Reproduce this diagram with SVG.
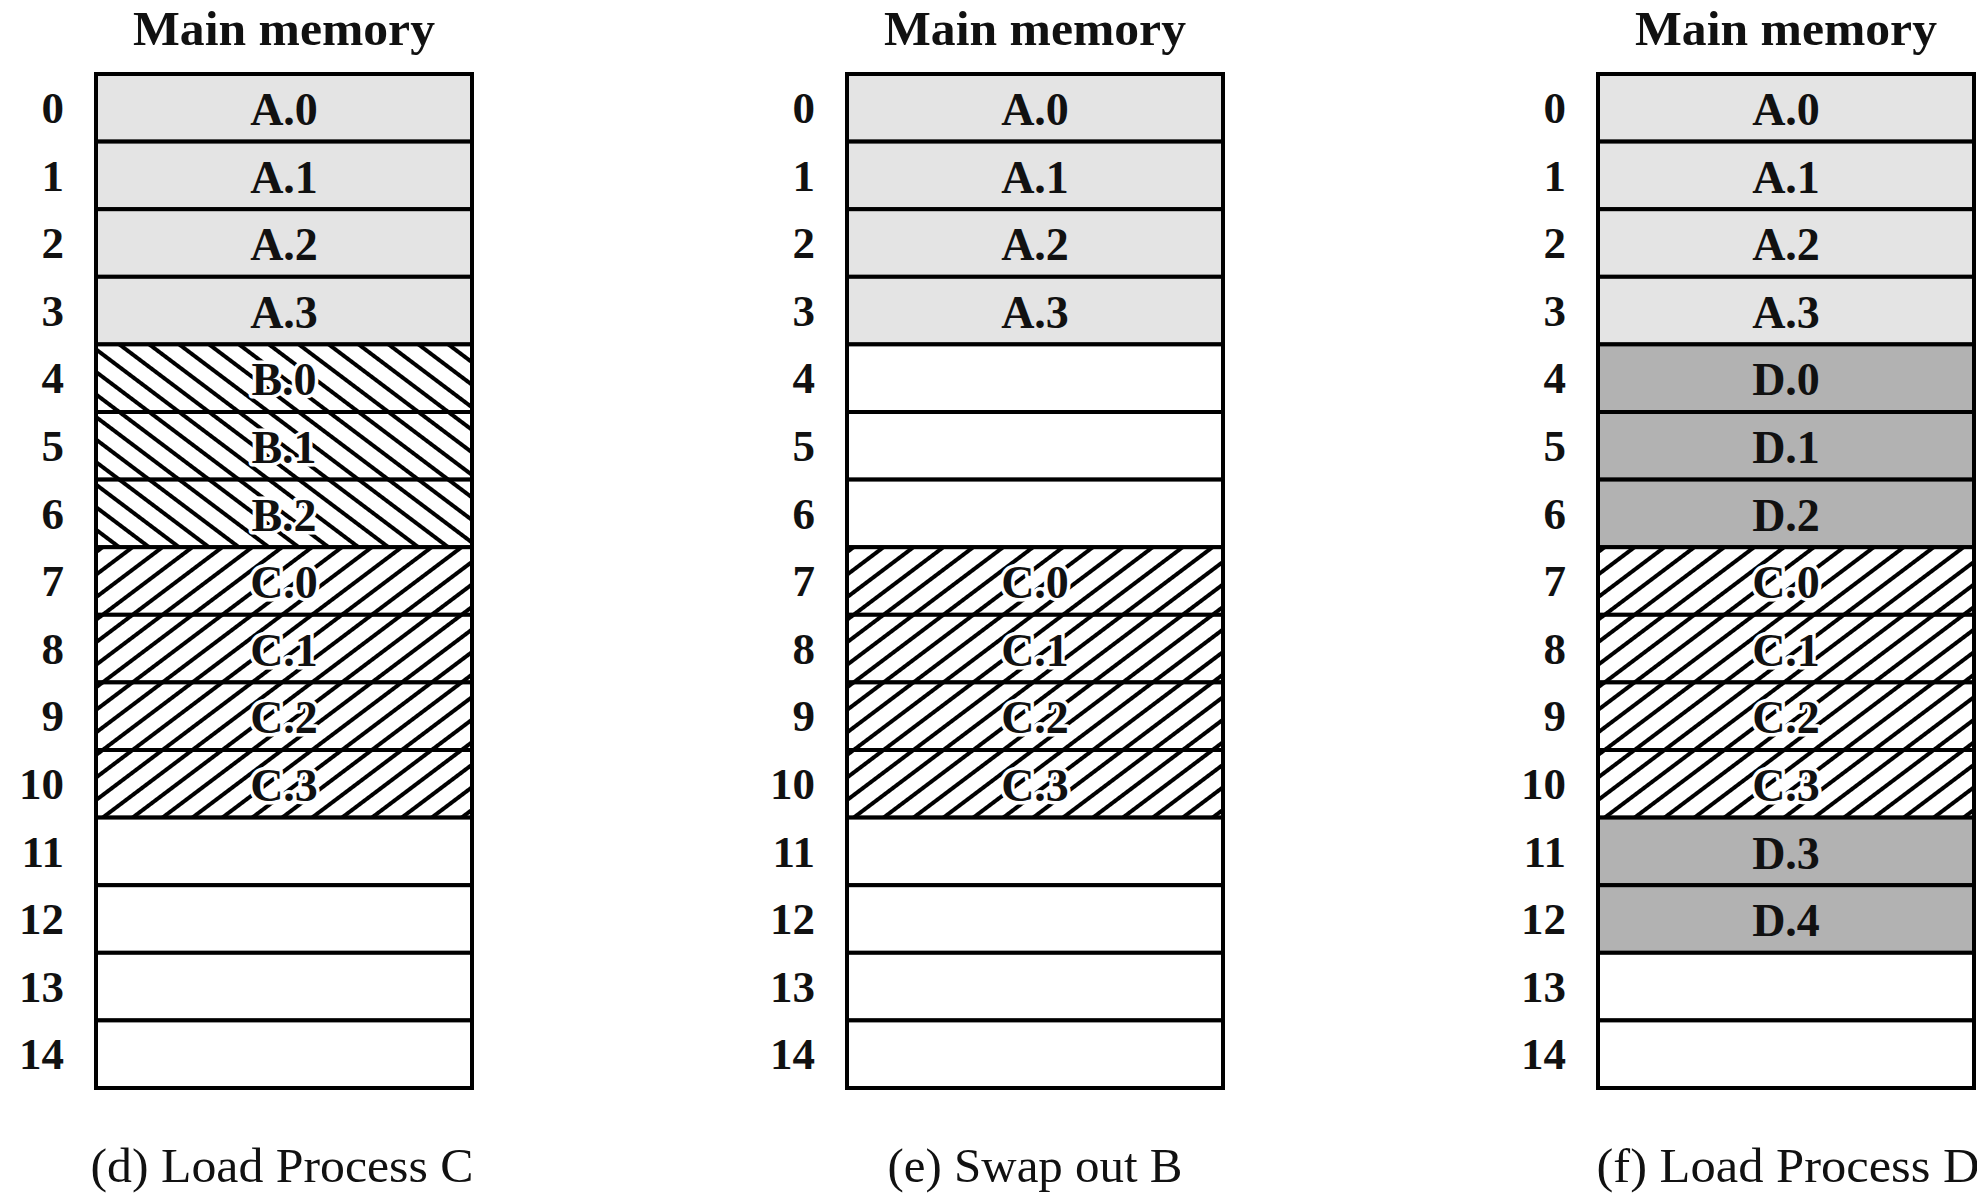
<svg xmlns="http://www.w3.org/2000/svg" width="1977" height="1193" viewBox="0 0 1977 1193">
<defs>
<pattern id="hatchB" width="18" height="20" patternUnits="userSpaceOnUse" patternTransform="rotate(-53)">
<rect width="18" height="20" fill="#fff"/>
<line x1="9" y1="-1" x2="9" y2="21" stroke="#000" stroke-width="4"/>
</pattern>
<pattern id="hatchC" width="18" height="20" patternUnits="userSpaceOnUse" patternTransform="rotate(53)">
<rect width="18" height="20" fill="#fff"/>
<line x1="9" y1="-1" x2="9" y2="21" stroke="#000" stroke-width="4"/>
</pattern>
</defs>
<style>
.cell{stroke:#000;stroke-width:4}
.a{fill:#e4e4e4}
.dd{fill:#b2b2b2}
.free{fill:#fff}
.hb{fill:url(#hatchB)}
.hc{fill:url(#hatchC)}
.num{font-family:"Liberation Serif","Times New Roman",serif;font-weight:bold;font-size:45px;text-anchor:end;fill:#111}
.lbl{font-family:"Liberation Serif","Times New Roman",serif;font-weight:bold;font-size:46px;text-anchor:middle;fill:#111}
.halo{paint-order:stroke;stroke:#fff;stroke-width:7;stroke-linejoin:round}
.title{font-family:"Liberation Serif","Times New Roman",serif;font-weight:bold;font-size:48px;text-anchor:middle;fill:#111}
.cap{font-family:"Liberation Serif","Times New Roman",serif;font-size:48px;text-anchor:middle;fill:#111}
</style>
<rect width="1977" height="1193" fill="#fff"/>

<g id="col-d" transform="translate(96,0)">
<text class="title" x="188" y="45" textLength="302" lengthAdjust="spacingAndGlyphs">Main memory</text>
<g id="d-0"><rect class="cell a" x="0" y="74" width="376" height="67.6"/><text class="num" x="-32" y="123">0</text><text class="lbl" x="188" y="125">A.0</text></g>
<g id="d-1"><rect class="cell a" x="0" y="141.6" width="376" height="67.6"/><text class="num" x="-32" y="190.6">1</text><text class="lbl" x="188" y="192.6">A.1</text></g>
<g id="d-2"><rect class="cell a" x="0" y="209.2" width="376" height="67.6"/><text class="num" x="-32" y="258.2">2</text><text class="lbl" x="188" y="260.2">A.2</text></g>
<g id="d-3"><rect class="cell a" x="0" y="276.8" width="376" height="67.6"/><text class="num" x="-32" y="325.8">3</text><text class="lbl" x="188" y="327.8">A.3</text></g>
<g id="d-4"><rect class="cell hb" x="0" y="344.4" width="376" height="67.6"/><text class="num" x="-32" y="393.4">4</text><text class="lbl halo" x="188" y="395.4">B.0</text></g>
<g id="d-5"><rect class="cell hb" x="0" y="412" width="376" height="67.6"/><text class="num" x="-32" y="461">5</text><text class="lbl halo" x="188" y="463">B.1</text></g>
<g id="d-6"><rect class="cell hb" x="0" y="479.6" width="376" height="67.6"/><text class="num" x="-32" y="528.6">6</text><text class="lbl halo" x="188" y="530.6">B.2</text></g>
<g id="d-7"><rect class="cell hc" x="0" y="547.2" width="376" height="67.6"/><text class="num" x="-32" y="596.2">7</text><text class="lbl halo" x="188" y="598.2">C.0</text></g>
<g id="d-8"><rect class="cell hc" x="0" y="614.8" width="376" height="67.6"/><text class="num" x="-32" y="663.8">8</text><text class="lbl halo" x="188" y="665.8">C.1</text></g>
<g id="d-9"><rect class="cell hc" x="0" y="682.4" width="376" height="67.6"/><text class="num" x="-32" y="731.4">9</text><text class="lbl halo" x="188" y="733.4">C.2</text></g>
<g id="d-10"><rect class="cell hc" x="0" y="750" width="376" height="67.6"/><text class="num" x="-32" y="799">10</text><text class="lbl halo" x="188" y="801">C.3</text></g>
<g id="d-11"><rect class="cell free" x="0" y="817.6" width="376" height="67.6"/><text class="num" x="-32" y="866.6">11</text></g>
<g id="d-12"><rect class="cell free" x="0" y="885.2" width="376" height="67.6"/><text class="num" x="-32" y="934.2">12</text></g>
<g id="d-13"><rect class="cell free" x="0" y="952.8" width="376" height="67.6"/><text class="num" x="-32" y="1001.8">13</text></g>
<g id="d-14"><rect class="cell free" x="0" y="1020.4" width="376" height="67.6"/><text class="num" x="-32" y="1069.4">14</text></g>
<text class="cap" x="186" y="1182" textLength="383" lengthAdjust="spacingAndGlyphs">(d) Load Process C</text>
</g>

<g id="col-e" transform="translate(847,0)">
<text class="title" x="188" y="45" textLength="302" lengthAdjust="spacingAndGlyphs">Main memory</text>
<g id="e-0"><rect class="cell a" x="0" y="74" width="376" height="67.6"/><text class="num" x="-32" y="123">0</text><text class="lbl" x="188" y="125">A.0</text></g>
<g id="e-1"><rect class="cell a" x="0" y="141.6" width="376" height="67.6"/><text class="num" x="-32" y="190.6">1</text><text class="lbl" x="188" y="192.6">A.1</text></g>
<g id="e-2"><rect class="cell a" x="0" y="209.2" width="376" height="67.6"/><text class="num" x="-32" y="258.2">2</text><text class="lbl" x="188" y="260.2">A.2</text></g>
<g id="e-3"><rect class="cell a" x="0" y="276.8" width="376" height="67.6"/><text class="num" x="-32" y="325.8">3</text><text class="lbl" x="188" y="327.8">A.3</text></g>
<g id="e-4"><rect class="cell free" x="0" y="344.4" width="376" height="67.6"/><text class="num" x="-32" y="393.4">4</text></g>
<g id="e-5"><rect class="cell free" x="0" y="412" width="376" height="67.6"/><text class="num" x="-32" y="461">5</text></g>
<g id="e-6"><rect class="cell free" x="0" y="479.6" width="376" height="67.6"/><text class="num" x="-32" y="528.6">6</text></g>
<g id="e-7"><rect class="cell hc" x="0" y="547.2" width="376" height="67.6"/><text class="num" x="-32" y="596.2">7</text><text class="lbl halo" x="188" y="598.2">C.0</text></g>
<g id="e-8"><rect class="cell hc" x="0" y="614.8" width="376" height="67.6"/><text class="num" x="-32" y="663.8">8</text><text class="lbl halo" x="188" y="665.8">C.1</text></g>
<g id="e-9"><rect class="cell hc" x="0" y="682.4" width="376" height="67.6"/><text class="num" x="-32" y="731.4">9</text><text class="lbl halo" x="188" y="733.4">C.2</text></g>
<g id="e-10"><rect class="cell hc" x="0" y="750" width="376" height="67.6"/><text class="num" x="-32" y="799">10</text><text class="lbl halo" x="188" y="801">C.3</text></g>
<g id="e-11"><rect class="cell free" x="0" y="817.6" width="376" height="67.6"/><text class="num" x="-32" y="866.6">11</text></g>
<g id="e-12"><rect class="cell free" x="0" y="885.2" width="376" height="67.6"/><text class="num" x="-32" y="934.2">12</text></g>
<g id="e-13"><rect class="cell free" x="0" y="952.8" width="376" height="67.6"/><text class="num" x="-32" y="1001.8">13</text></g>
<g id="e-14"><rect class="cell free" x="0" y="1020.4" width="376" height="67.6"/><text class="num" x="-32" y="1069.4">14</text></g>
<text class="cap" x="188" y="1182" textLength="295" lengthAdjust="spacingAndGlyphs">(e) Swap out B</text>
</g>

<g id="col-f" transform="translate(1598,0)">
<text class="title" x="188" y="45" textLength="302" lengthAdjust="spacingAndGlyphs">Main memory</text>
<g id="f-0"><rect class="cell a" x="0" y="74" width="376" height="67.6"/><text class="num" x="-32" y="123">0</text><text class="lbl" x="188" y="125">A.0</text></g>
<g id="f-1"><rect class="cell a" x="0" y="141.6" width="376" height="67.6"/><text class="num" x="-32" y="190.6">1</text><text class="lbl" x="188" y="192.6">A.1</text></g>
<g id="f-2"><rect class="cell a" x="0" y="209.2" width="376" height="67.6"/><text class="num" x="-32" y="258.2">2</text><text class="lbl" x="188" y="260.2">A.2</text></g>
<g id="f-3"><rect class="cell a" x="0" y="276.8" width="376" height="67.6"/><text class="num" x="-32" y="325.8">3</text><text class="lbl" x="188" y="327.8">A.3</text></g>
<g id="f-4"><rect class="cell dd" x="0" y="344.4" width="376" height="67.6"/><text class="num" x="-32" y="393.4">4</text><text class="lbl" x="188" y="395.4">D.0</text></g>
<g id="f-5"><rect class="cell dd" x="0" y="412" width="376" height="67.6"/><text class="num" x="-32" y="461">5</text><text class="lbl" x="188" y="463">D.1</text></g>
<g id="f-6"><rect class="cell dd" x="0" y="479.6" width="376" height="67.6"/><text class="num" x="-32" y="528.6">6</text><text class="lbl" x="188" y="530.6">D.2</text></g>
<g id="f-7"><rect class="cell hc" x="0" y="547.2" width="376" height="67.6"/><text class="num" x="-32" y="596.2">7</text><text class="lbl halo" x="188" y="598.2">C.0</text></g>
<g id="f-8"><rect class="cell hc" x="0" y="614.8" width="376" height="67.6"/><text class="num" x="-32" y="663.8">8</text><text class="lbl halo" x="188" y="665.8">C.1</text></g>
<g id="f-9"><rect class="cell hc" x="0" y="682.4" width="376" height="67.6"/><text class="num" x="-32" y="731.4">9</text><text class="lbl halo" x="188" y="733.4">C.2</text></g>
<g id="f-10"><rect class="cell hc" x="0" y="750" width="376" height="67.6"/><text class="num" x="-32" y="799">10</text><text class="lbl halo" x="188" y="801">C.3</text></g>
<g id="f-11"><rect class="cell dd" x="0" y="817.6" width="376" height="67.6"/><text class="num" x="-32" y="866.6">11</text><text class="lbl" x="188" y="868.6">D.3</text></g>
<g id="f-12"><rect class="cell dd" x="0" y="885.2" width="376" height="67.6"/><text class="num" x="-32" y="934.2">12</text><text class="lbl" x="188" y="936.2">D.4</text></g>
<g id="f-13"><rect class="cell free" x="0" y="952.8" width="376" height="67.6"/><text class="num" x="-32" y="1001.8">13</text></g>
<g id="f-14"><rect class="cell free" x="0" y="1020.4" width="376" height="67.6"/><text class="num" x="-32" y="1069.4">14</text></g>
<text class="cap" x="190" y="1182" textLength="383" lengthAdjust="spacingAndGlyphs">(f) Load Process D</text>
</g>

<g id="connectors"/>
</svg>
